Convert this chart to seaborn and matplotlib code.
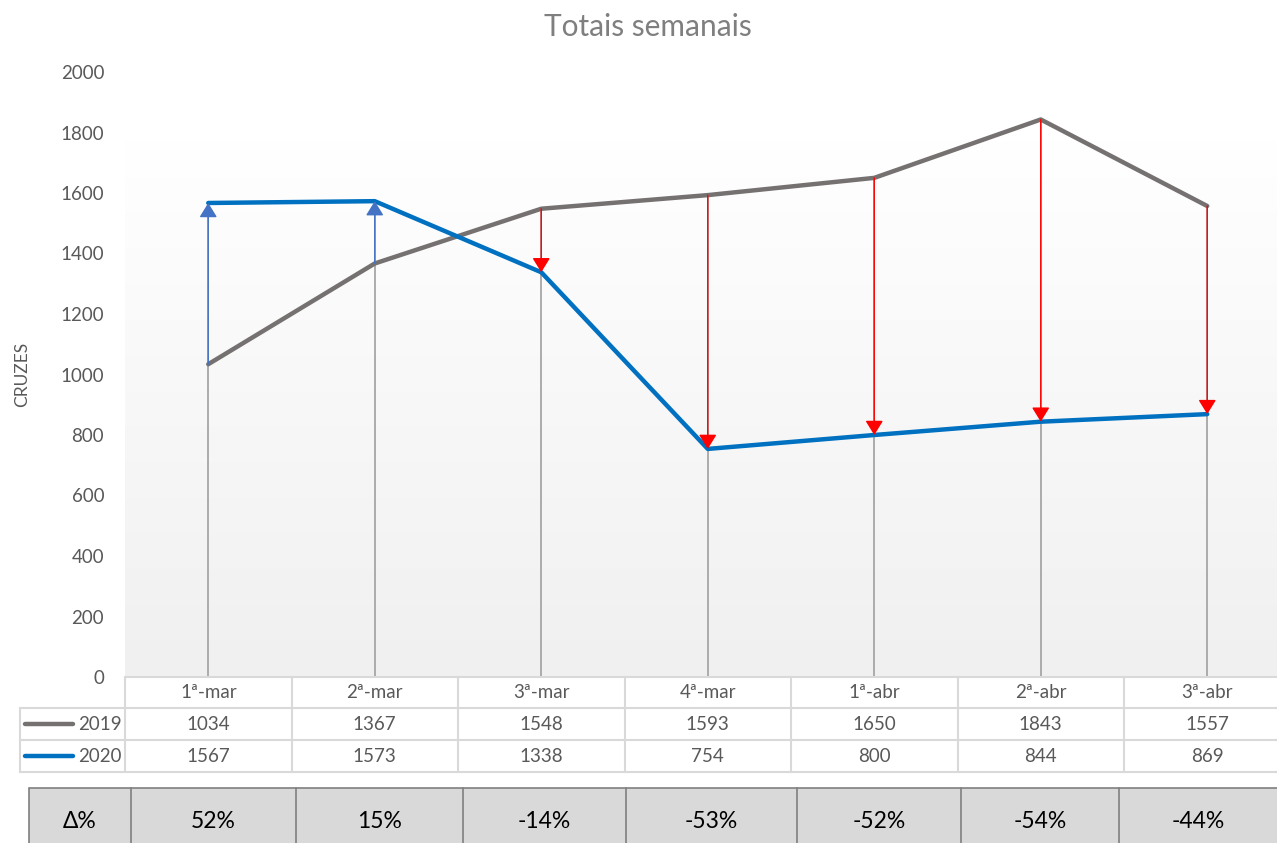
import numpy as np
import pandas as pd
import seaborn as sns
import matplotlib.pyplot as plt
from matplotlib.colors import LinearSegmentedColormap
from matplotlib.lines import Line2D
from matplotlib.patches import Rectangle, FancyArrowPatch
import matplotlib.transforms as mtransforms

# data
semanas = ['1ª-mar', '2ª-mar', '3ª-mar', '4ª-mar', '1ª-abr', '2ª-abr', '3ª-abr']
cruzes_2019 = [1034, 1367, 1548, 1593, 1650, 1843, 1557]
cruzes_2020 = [1567, 1573, 1338, 754, 800, 844, 869]
delta_pct = ['52%', '15%', '-14%', '-53%', '-52%', '-54%', '-44%']
anos = ['2019', '2020']
y_ticks = list(range(0, 2001, 200))

cores = {'2019': '#767171', '2020': '#0070C0'}
txt_cor = '#595959'
grid_cor = '#d9d9d9'

# figure layout in pixels
W, H = 1277, 843
col_w = 166.5
ax_left, ax_top, ax_bottom = 125, 72, 677

sns.set_style('white')
plt.rcParams['font.family'] = ['Lato', 'DejaVu Sans']

fig = plt.figure(figsize=(W / 100, H / 100), dpi=100)


def fx(px):
    return px / W


def fy(py):
    return 1 - py / H


ax = fig.add_axes([fx(ax_left), fy(ax_bottom), fx(col_w * 7), (ax_bottom - ax_top) / H])

# soft gradient background of the plot area
grad = LinearSegmentedColormap.from_list('fundo', ['#f0f0f0', '#ffffff'])
ax.imshow(np.linspace(0, 1, 256).reshape(-1, 1), extent=[-0.5, 6.5, 0, 1775],
          aspect='auto', cmap=grad, origin='lower', zorder=0)

x = np.arange(len(semanas))
topo = np.maximum(cruzes_2019, cruzes_2020)
ax.vlines(x, 0, topo, color='#a6a6a6', lw=1.3, zorder=1)

df = pd.DataFrame({
    'semana': np.concatenate([x, x]),
    'cruzes': cruzes_2019 + cruzes_2020,
    'ano': ['2019'] * len(x) + ['2020'] * len(x),
})
sns.lineplot(data=df, x='semana', y='cruzes', hue='ano', palette=cores,
             lw=3.2, legend=False, ax=ax, zorder=3)

# up/down arrows from 2019 to 2020
for i, (a, b) in enumerate(zip(cruzes_2019, cruzes_2020)):
    cor = '#4472C4' if b > a else '#ff0000'
    seta = FancyArrowPatch((i, a), (i, b),
                           arrowstyle='-|>,head_length=0.55,head_width=0.34',
                           mutation_scale=16, lw=1.0, color=cor,
                           shrinkA=0, shrinkB=0, zorder=4)
    ax.add_patch(seta)

ax.set_xlim(-0.5, 6.5)
ax.set_ylim(0, 2000)
ax.set_yticks(y_ticks)
ax.set_xticks([])
ax.set_xlabel('')
ax.set_ylabel('')
ax.tick_params(axis='y', length=0, pad=15, labelsize=13.5, labelcolor=txt_cor)
for s in ax.spines.values():
    s.set_visible(False)

fig.text(fx(648), fy(27), 'Totais semanais', ha='center', va='center',
         fontsize=21.5, color='#7f7f7f')
fig.text(fx(22), fy(374), 'CRUZES', rotation=90, ha='center', va='center',
         fontsize=12.5, color=txt_cor)

# data table under the chart
trans = mtransforms.blended_transform_factory(ax.transData, fig.transFigure)
right_px = ax_left + col_w * 7
rows_y = [677, 708, 740, 772]


def hline(x0, x1, y, **kw):
    fig.add_artist(Line2D([fx(x0), fx(x1)], [fy(y), fy(y)], **kw))


def vline(xp, y0, y1, **kw):
    fig.add_artist(Line2D([fx(xp), fx(xp)], [fy(y0), fy(y1)], **kw))


hline(ax_left, right_px, rows_y[0], color=grid_cor, lw=1.5)
hline(20, right_px, rows_y[1], color=grid_cor, lw=1.5)
hline(20, right_px, rows_y[2], color=grid_cor, lw=1.5)
hline(20, right_px, rows_y[3], color=grid_cor, lw=1.5)
for k in range(8):
    vline(ax_left + col_w * k, rows_y[0], rows_y[3], color=grid_cor, lw=1.5)
vline(20, rows_y[1], rows_y[3], color=grid_cor, lw=1.5)

for i, s in enumerate(semanas):
    fig.text(i, fy((rows_y[0] + rows_y[1]) / 2), s, transform=trans,
             ha='center', va='center', fontsize=13.5, color=txt_cor)
for r, (ano, vals) in enumerate(zip(anos, [cruzes_2019, cruzes_2020])):
    ym = fy((rows_y[r + 1] + rows_y[r + 2]) / 2)
    for i, v in enumerate(vals):
        fig.text(i, ym, str(v), transform=trans, ha='center', va='center',
                 fontsize=13.5, color=txt_cor)
    fig.add_artist(Line2D([fx(25), fx(73)], [ym, ym], color=cores[ano], lw=3.2,
                          solid_capstyle='round'))
    fig.text(fx(122), ym, ano, ha='right', va='center', fontsize=13.5, color=txt_cor)

# delta % row
delta_edges = [29, 131, 296, 463, 626, 797, 961, 1119, 1290]
d_top, d_bot = 788, 855
fig.add_artist(Rectangle((fx(delta_edges[0]), fy(d_bot)),
                         fx(delta_edges[-1] - delta_edges[0]), (d_bot - d_top) / H,
                         transform=fig.transFigure, facecolor='#d9d9d9',
                         edgecolor='#7f7f7f', lw=1.2))
for e in delta_edges[1:-1]:
    vline(e, d_top, d_bot, color='#7f7f7f', lw=1.2)
labels_delta = ['Δ%'] + delta_pct
for k, lab in enumerate(labels_delta):
    xc = (delta_edges[k] + min(delta_edges[k + 1], W)) / 2
    fig.text(fx(xc), fy(821), lab, ha='center', va='center', fontsize=16.5, color='black')

fig.savefig('out.png', dpi=100)
